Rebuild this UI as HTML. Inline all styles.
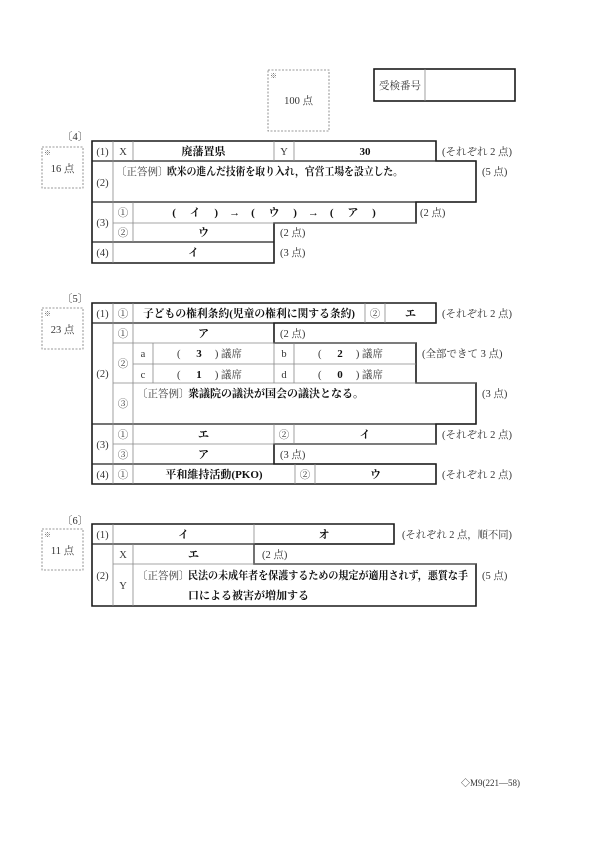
<!DOCTYPE html>
<html><head><meta charset="utf-8"><style>
html,body{margin:0;padding:0;background:#fff;}
svg{display:block;}
text{font-family:"Liberation Serif","Noto Serif CJK SC","Noto Sans CJK JP",serif;font-size:10.5px;fill:#333;}
.b{font-weight:bold;fill:#111;font-size:11px;}
.c{text-anchor:middle;}
.o{fill:none;stroke:#1a1a1a;stroke-width:1.6;}
.d{stroke:#222;stroke-width:1.2;}
.g{stroke:#888;stroke-width:0.8;}
.dash{fill:none;stroke:#777;stroke-width:0.8;stroke-dasharray:2,1.5;}
.sm{font-size:7px;fill:#666;}
</style></head><body>
<svg width="600" height="848" viewBox="0 0 600 848" xmlns="http://www.w3.org/2000/svg">
<rect class="dash" x="268" y="70" width="61" height="61"/>
<text class="sm" x="270" y="78">※</text>
<text class="c" x="298.5" y="104">100 点</text>
<rect class="o" x="374" y="69" width="141" height="32"/>
<line class="g" x1="425" y1="69" x2="425" y2="101"/>
<text x="379" y="89">受検番号</text>

<!-- Section 4 -->
<text x="62" y="140">〔4〕</text>
<rect class="dash" x="42" y="147" width="41" height="41"/>
<text class="sm" x="44" y="155">※</text>
<text class="c" x="62.5" y="172">16 点</text>
<path class="o" d="M92,141 H436 V161 H476 V202 H416 V223 H274 V263 H92 Z"/>
<line class="d" x1="92" y1="161" x2="476" y2="161"/>
<line class="d" x1="92" y1="202" x2="476" y2="202"/>
<line class="g" x1="113" y1="223" x2="416" y2="223"/>
<line class="d" x1="92" y1="242" x2="274" y2="242"/>
<line class="g" x1="113" y1="141" x2="113" y2="263"/>
<line class="g" x1="133" y1="141" x2="133" y2="161"/>
<line class="g" x1="133" y1="202" x2="133" y2="242"/>
<line class="g" x1="274" y1="141" x2="274" y2="161"/>
<line class="g" x1="294" y1="141" x2="294" y2="161"/>
<text class="c" x="102.5" y="155">(1)</text>
<text class="c" x="123" y="155">X</text>
<text class="c b" x="203.5" y="155">廃藩置県</text>
<text class="c" x="284" y="155">Y</text>
<text class="c b" x="365" y="155">30</text>
<text x="442" y="155">(それぞれ 2 点)</text>
<text class="c" x="102.5" y="186">(2)</text>
<text x="116" y="175">〔正答例〕</text>
<text class="b" x="167" y="175" textLength="236" lengthAdjust="spacingAndGlyphs">欧米の進んだ技術を取り入れ，官営工場を設立した。</text>
<text x="482" y="175">(5 点)</text>
<text class="c" x="102.5" y="226">(3)</text>
<text class="c" x="123" y="216">①</text>
<text class="c b" x="274" y="216" xml:space="preserve">(　 イ 　)　→　(　 ウ 　)　→　(　 ア 　)</text>
<text x="420" y="216">(2 点)</text>
<text class="c" x="123" y="236">②</text>
<text class="c b" x="203.5" y="236">ウ</text>
<text x="280" y="236">(2 点)</text>
<text class="c" x="102.5" y="256">(4)</text>
<text class="c b" x="193.5" y="256">イ</text>
<text x="280" y="256">(3 点)</text>

<!-- Section 5 -->
<text x="62" y="302">〔5〕</text>
<rect class="dash" x="42" y="308" width="41" height="41"/>
<text class="sm" x="44" y="316">※</text>
<text class="c" x="62.5" y="333">23 点</text>
<path class="o" d="M92,303 H436 V323 H274 V343 H416 V383 H476 V424 H436 V444 H274 V464 H436 V484 H92 Z"/>
<line class="d" x1="92" y1="323" x2="436" y2="323"/>
<line class="g" x1="113" y1="343" x2="416" y2="343"/>
<line class="g" x1="133" y1="364" x2="416" y2="364"/>
<line class="g" x1="113" y1="383" x2="476" y2="383"/>
<line class="d" x1="92" y1="424" x2="476" y2="424"/>
<line class="g" x1="113" y1="444" x2="436" y2="444"/>
<line class="d" x1="92" y1="464" x2="436" y2="464"/>
<line class="g" x1="113" y1="303" x2="113" y2="484"/>
<line class="g" x1="133" y1="303" x2="133" y2="484"/>
<line class="g" x1="153" y1="343" x2="153" y2="383"/>
<line class="g" x1="274" y1="343" x2="274" y2="383"/>
<line class="g" x1="294" y1="343" x2="294" y2="383"/>
<line class="g" x1="274" y1="424" x2="274" y2="444"/>
<line class="g" x1="294" y1="424" x2="294" y2="444"/>
<line class="g" x1="365" y1="303" x2="365" y2="323"/>
<line class="g" x1="385" y1="303" x2="385" y2="323"/>
<line class="g" x1="295" y1="464" x2="295" y2="484"/>
<line class="g" x1="315" y1="464" x2="315" y2="484"/>
<text class="c" x="102.5" y="317">(1)</text>
<text class="c" x="123" y="317">①</text>
<text class="c b" x="249" y="317" textLength="212" lengthAdjust="spacingAndGlyphs">子どもの権利条約(児童の権利に関する条約)</text>
<text class="c" x="375" y="317">②</text>
<text class="c b" x="410.5" y="317">エ</text>
<text x="442" y="317">(それぞれ 2 点)</text>
<text class="c" x="102.5" y="377">(2)</text>
<text class="c" x="123" y="337">①</text>
<text class="c b" x="203.5" y="337">ア</text>
<text x="280" y="337">(2 点)</text>
<text class="c" x="123" y="367">②</text>
<text class="c" x="143" y="357">a</text>
<text class="c" x="143" y="378">c</text>
<text class="c" x="284" y="357">b</text>
<text class="c" x="284" y="378">d</text>
<text x="177" y="357" xml:space="preserve">(　  <tspan class="b">3</tspan>　 ) 議席</text>
<text x="177" y="378" xml:space="preserve">(　  <tspan class="b">1</tspan>　 ) 議席</text>
<text x="318" y="357" xml:space="preserve">(　  <tspan class="b">2</tspan>　 ) 議席</text>
<text x="318" y="378" xml:space="preserve">(　  <tspan class="b">0</tspan>　 ) 議席</text>
<text x="422" y="357">(全部できて 3 点)</text>
<text class="c" x="123" y="407">③</text>
<text x="137" y="397">〔正答例〕</text>
<text class="b" x="188" y="397">衆議院の議決が国会の議決となる。</text>
<text x="482" y="397">(3 点)</text>
<text class="c" x="102.5" y="448">(3)</text>
<text class="c" x="123" y="438">①</text>
<text class="c b" x="203.5" y="438">エ</text>
<text class="c" x="284" y="438">②</text>
<text class="c b" x="365" y="438">イ</text>
<text x="442" y="438">(それぞれ 2 点)</text>
<text class="c" x="123" y="458">③</text>
<text class="c b" x="203.5" y="458">ア</text>
<text x="280" y="458">(3 点)</text>
<text class="c" x="102.5" y="478">(4)</text>
<text class="c" x="123" y="478">①</text>
<text class="c b" x="214" y="478">平和維持活動(PKO)</text>
<text class="c" x="305" y="478">②</text>
<text class="c b" x="375.5" y="478">ウ</text>
<text x="442" y="478">(それぞれ 2 点)</text>

<!-- Section 6 -->
<text x="62" y="524">〔6〕</text>
<rect class="dash" x="42" y="529" width="41" height="41"/>
<text class="sm" x="44" y="537">※</text>
<text class="c" x="62.5" y="554">11 点</text>
<path class="o" d="M92,524 H394 V544 H254 V564 H476 V606 H92 Z"/>
<line class="d" x1="92" y1="544" x2="394" y2="544"/>
<line class="g" x1="113" y1="564" x2="476" y2="564"/>
<line class="g" x1="113" y1="524" x2="113" y2="606"/>
<line class="g" x1="133" y1="544" x2="133" y2="606"/>
<line class="g" x1="254" y1="524" x2="254" y2="564"/>
<text class="c" x="102.5" y="538">(1)</text>
<text class="c b" x="183.5" y="538">イ</text>
<text class="c b" x="324" y="538">オ</text>
<text x="402" y="538" textLength="110" lengthAdjust="spacingAndGlyphs">(それぞれ 2 点，順不同)</text>
<text class="c" x="102.5" y="579">(2)</text>
<text class="c" x="123" y="558">X</text>
<text class="c b" x="193.5" y="558">エ</text>
<text x="262" y="558">(2 点)</text>
<text class="c" x="123" y="589">Y</text>
<text x="137" y="579">〔正答例〕</text>
<text class="b" x="188" y="579" textLength="280" lengthAdjust="spacingAndGlyphs">民法の未成年者を保護するための規定が適用されず，悪質な手</text>
<text class="b" x="188" y="599">口による被害が増加する</text>
<text x="482" y="579">(5 点)</text>

<text x="461" y="786" style="font-size:9px">◇M9(221—58)</text>
</svg>
</body></html>
